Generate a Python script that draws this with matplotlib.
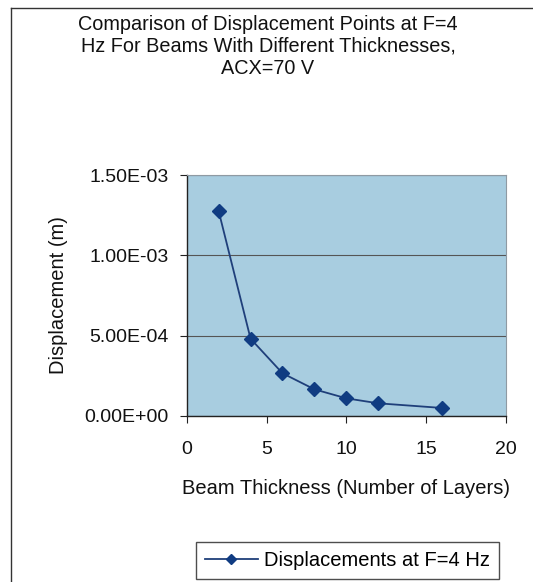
import matplotlib
matplotlib.use("Agg")
import matplotlib.pyplot as plt
from matplotlib.lines import Line2D

layers = [2, 4, 6, 8, 10, 12, 16]
displacement = [1.276e-3, 0.481e-3, 0.266e-3, 0.166e-3, 0.110e-3, 0.079e-3, 0.050e-3]
yticks = [0.0, 5.0e-4, 1.0e-3, 1.5e-3]
ytick_labels = ["0.00E+00", "5.00E-04", "1.00E-03", "1.50E-03"]
xticks = [0, 5, 10, 15, 20]

plt.rcParams["font.family"] = ["Liberation Sans", "DejaVu Sans"]

W, H = 533, 582
fig = plt.figure(figsize=(W / 100, H / 100), dpi=100)
fig.patch.set_facecolor("white")

# outer chart frame (left and top edges)
fig.add_artist(Line2D([11 / W, 11 / W], [0, 1 - 8 / H], transform=fig.transFigure,
                      color="#333333", lw=1.0))
fig.add_artist(Line2D([11 / W, 1], [1 - 8 / H, 1 - 8 / H], transform=fig.transFigure,
                      color="#333333", lw=1.0))

x0, x1, y0, y1 = 186.7, 506, 175, 416
ax = fig.add_axes([x0 / W, 1 - y1 / H, (x1 - x0) / W, (y1 - y0) / H])
ax.set_facecolor("#a8cde0")
ax.plot(layers, displacement, color="#1f3f7a", lw=1.3, marker="D", markersize=7,
        markerfacecolor="#103c82", markeredgecolor="#103c82", label="Displacements at F=4 Hz")

ax.set_xlim(0, 20)
ax.set_ylim(0, 1.5e-3)
ax.set_xticks(xticks)
ax.set_yticks(yticks)
ax.set_yticklabels(ytick_labels)
ax.tick_params(axis="both", labelsize=14, direction="out", length=5, color="#222222",
               labelcolor="#111111")
ax.tick_params(axis="y", pad=8)
ax.tick_params(axis="x", pad=13)
ax.grid(axis="y", color="#555555", lw=0.8)
ax.set_axisbelow(True)
for side in ("top", "right"):
    ax.spines[side].set_color("#8f9aa3")
    ax.spines[side].set_linewidth(0.8)
for side in ("left", "bottom"):
    ax.spines[side].set_color("#222222")
    ax.spines[side].set_linewidth(1.0)

ax.set_xlabel("Beam Thickness (Number of Layers)", fontsize=14.5, color="#111111", va="center")
ax.xaxis.set_label_coords(0.5, (y1 - 489) / (y1 - y0))
ax.set_ylabel("Displacement (m)", fontsize=14.5, color="#111111", va="center")
ax.yaxis.set_label_coords((58 - x0) / (x1 - x0), 0.5)

fig.text(268 / W, 1 - 15 / H,
         "Comparison of Displacement Points at F=4\nHz For Beams With Different Thicknesses,\nACX=70 V",
         ha="center", va="top", fontsize=14.3, linespacing=1.2, color="#111111")

leg = fig.legend(loc="center", bbox_to_anchor=(347.5 / W, 1 - 560.5 / H), frameon=True,
                 fontsize=14.5, fancybox=False, edgecolor="#222222", borderpad=0.45,
                 handlelength=2.6, handletextpad=0.3, markerscale=0.7, borderaxespad=0)
leg.get_frame().set_linewidth(1.0)

fig.savefig("out.png", dpi=100, facecolor="white")
